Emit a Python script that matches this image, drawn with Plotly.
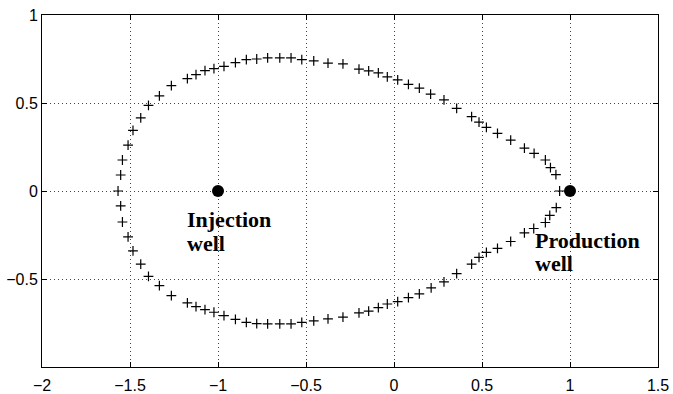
import plotly.graph_objects as go

# Front positions (upper half, from left apex going right)
upper_x = [-1.568, -1.553, -1.543, -1.511, -1.483, -1.439, -1.395, -1.333, -1.265, -1.174,
           -1.125, -1.074, -1.023, -0.966, -0.901, -0.839, -0.780, -0.718, -0.649, -0.585,
           -0.524, -0.456, -0.375, -0.290, -0.199, -0.144, -0.089, -0.038, 0.021, 0.082,
           0.144, 0.208, 0.284, 0.356, 0.441, 0.483, 0.525, 0.588, 0.663, 0.741,
           0.796, 0.860, 0.889, 0.920, 0.941]
upper_y = [0.000, 0.091, 0.176, 0.261, 0.344, 0.416, 0.486, 0.540, 0.599, 0.639,
           0.661, 0.684, 0.695, 0.708, 0.729, 0.746, 0.750, 0.756, 0.756, 0.756,
           0.746, 0.739, 0.727, 0.722, 0.693, 0.682, 0.671, 0.648, 0.631, 0.606,
           0.584, 0.550, 0.518, 0.469, 0.423, 0.391, 0.361, 0.327, 0.289, 0.244,
           0.214, 0.176, 0.133, 0.093, 0.000]

# Front positions (lower half)
lower_x = [-1.553, -1.543, -1.511, -1.483, -1.439, -1.395, -1.333, -1.265, -1.174,
           -1.125, -1.074, -1.023, -0.966, -0.901, -0.839, -0.780, -0.718, -0.649, -0.585,
           -0.524, -0.456, -0.375, -0.290, -0.199, -0.144, -0.089, -0.038, 0.021, 0.082,
           0.144, 0.211, 0.284, 0.356, 0.441, 0.483, 0.525, 0.588, 0.663, 0.741,
           0.794, 0.860, 0.885, 0.922]
lower_y = [-0.085, -0.176, -0.261, -0.340, -0.415, -0.485, -0.538, -0.595, -0.636,
           -0.657, -0.674, -0.689, -0.708, -0.729, -0.746, -0.753, -0.755, -0.755, -0.755,
           -0.746, -0.738, -0.727, -0.717, -0.693, -0.682, -0.663, -0.642, -0.629, -0.606,
           -0.584, -0.550, -0.516, -0.470, -0.415, -0.377, -0.349, -0.326, -0.287, -0.238,
           -0.213, -0.179, -0.138, -0.094]

# Wells
well_x = [-1, 1]
well_y = [0, 0]

# Well labels (one entry per text line)
label_text = ["Injection", "well", "Production", "well"]
label_x = [-1.19, -1.19, 0.79, 0.79]
label_y = [-0.163, -0.299, -0.2795, -0.4125]

x_ticks = [-2, -1.5, -1, -0.5, 0, 0.5, 1, 1.5]
x_ticktext = ["\u22122", "\u22121.5", "\u22121", "\u22120.5", "0", "0.5", "1", "1.5"]
y_ticks = [-1, -0.5, 0, 0.5, 1]
y_ticktext = ["", "\u22120.5", "0", "0.5", "1"]

fig = go.Figure()
fig.add_trace(go.Scatter(
    x=upper_x + lower_x, y=upper_y + lower_y, mode="markers",
    marker=dict(symbol="cross-thin", size=7, line=dict(color="black", width=1.2)),
    showlegend=False, hoverinfo="skip"))
fig.add_trace(go.Scatter(
    x=well_x, y=well_y, mode="markers",
    marker=dict(symbol="circle", size=12, color="black"),
    showlegend=False, hoverinfo="skip"))

for lx, ly, t in zip(label_x, label_y, label_text):
    fig.add_annotation(x=lx, y=ly, xref="x", yref="y", text="<b>" + t + "</b>",
                       showarrow=False, xanchor="left", yanchor="middle", align="left",
                       font=dict(family="Liberation Serif", size=22, color="black"))

axis_common = dict(
    showline=True, linecolor="black", linewidth=1, mirror="ticks",
    ticks="inside", ticklen=5, tickcolor="black", tickwidth=1,
    showgrid=True, gridcolor="#444", gridwidth=1, griddash="1px,3px",
    zeroline=False, automargin=False,
    tickfont=dict(family="Liberation Sans", size=16, color="black"),
)
fig.update_xaxes(range=[-2, 1.5], tickvals=x_ticks, ticktext=x_ticktext, ticklabelstandoff=4, **axis_common)
fig.update_yaxes(range=[-1, 1], tickvals=y_ticks, ticktext=y_ticktext, **axis_common)

fig.update_layout(
    width=673, height=394,
    margin=dict(l=42, r=15, t=15, b=27),
    paper_bgcolor="white", plot_bgcolor="white",
)
fig.write_html("out.html", config={"displayModeBar": False},
               post_script="document.body.style.margin='0px';document.body.style.overflow='hidden';")
